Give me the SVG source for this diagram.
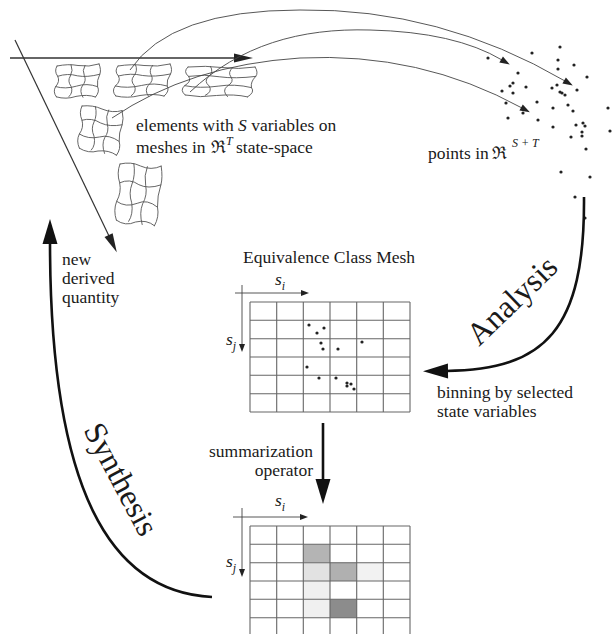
<svg xmlns="http://www.w3.org/2000/svg" xmlns:xlink="http://www.w3.org/1999/xlink" width="613" height="634" viewBox="0 0 613 634">
<style>
text{font-family:"Liberation Serif","DejaVu Serif",serif;fill:#1a1a1a}
.lbl{font-size:17.5px}
.it{font-style:italic}
.big{font-size:32px}
.grid line{stroke:#666;stroke-width:1.1}
.thin{fill:none;stroke:#444;stroke-width:0.9}
.thick{fill:none;stroke:#111;stroke-width:2.6}
.dot{fill:#222}
</style>
<defs>
<marker id="bigHead" markerUnits="userSpaceOnUse" markerWidth="26" markerHeight="16" refX="2" refY="7.5" orient="auto" overflow="visible"><path d="M0,0 L25,7.5 L0,15 z" fill="#111"/></marker>
<marker id="medHead" markerUnits="userSpaceOnUse" markerWidth="20" markerHeight="10" refX="1" refY="4.5" orient="auto" overflow="visible"><path d="M0,0 L19,4.5 L0,9 z" fill="#222"/></marker>
<marker id="smallHead" markerUnits="userSpaceOnUse" markerWidth="11" markerHeight="8" refX="1" refY="3.5" orient="auto" overflow="visible"><path d="M0,0 L10,3.5 L0,7 z" fill="#222"/></marker>
<marker id="axisHead" markerUnits="userSpaceOnUse" markerWidth="9" markerHeight="7" refX="1" refY="3" orient="auto" overflow="visible"><path d="M0,0 L8,3 L0,6 z" fill="#222"/></marker>
<g id="meshBase" fill="none" stroke="#555" stroke-width="0.9" stroke-linecap="round">
<path vector-effect="non-scaling-stroke" d="M0,0 Q8,-2 15,0 Q23,2 30,-1"/>
<path vector-effect="non-scaling-stroke" d="M1,10 Q8,7 15,10 Q22,12 31,9"/>
<path vector-effect="non-scaling-stroke" d="M0,20 Q7,23 15,20 Q22,17 30,21"/>
<path vector-effect="non-scaling-stroke" d="M1,30 Q8,33 15,30 Q23,28 29,31"/>
<path vector-effect="non-scaling-stroke" d="M0,0 Q-2,5 1,10 Q3,15 0,20 Q-2,25 1,30"/>
<path vector-effect="non-scaling-stroke" d="M10,-1 Q12,5 10,10 Q8,15 11,20 Q13,26 10,30"/>
<path vector-effect="non-scaling-stroke" d="M20,0 Q18,5 20,10 Q22,15 19,20 Q17,25 20,31"/>
<path vector-effect="non-scaling-stroke" d="M30,-1 Q32,5 31,9 Q29,15 30,21 Q32,26 29,31"/>
</g>
</defs>
<rect width="613" height="634" fill="#fff"/>

<g id="mesh1"><use xlink:href="#meshBase" transform="matrix(1.4,-0.033,-0.067,1.03,57,66)"/></g>
<g id="mesh2"><use xlink:href="#meshBase" transform="matrix(1.733,-0.033,-0.133,1.0,118,66)"/></g>
<g id="mesh3"><use xlink:href="#meshBase" transform="matrix(2.233,0.033,-0.167,0.933,188,67)"/></g>
<g id="mesh4"><use xlink:href="#meshBase" transform="matrix(1.333,0.2,-0.133,1.4,82,106)"/></g>
<g id="mesh5"><use xlink:href="#meshBase" transform="matrix(1.367,0.133,-0.167,1.867,120,164)"/></g>

<g id="elementsLabel">
<text class="lbl" x="136" y="131">elements with <tspan class="it">S</tspan> variables on</text>
<text class="lbl" x="136" y="153">meshes in</text>
<text class="lbl" x="211" y="153">ℜ<tspan class="it" x="226" dy="-8" font-size="12">T</tspan><tspan x="236" dy="8">state-space</tspan></text>
</g>

<g id="pointCloud">
<circle class="dot" cx="488" cy="58" r="1.6"/><circle class="dot" cx="532" cy="53" r="1.6"/><circle class="dot" cx="560" cy="47" r="1.6"/><circle class="dot" cx="558" cy="60" r="1.6"/><circle class="dot" cx="574" cy="65" r="1.6"/><circle class="dot" cx="558" cy="69" r="1.6"/><circle class="dot" cx="587" cy="77" r="1.6"/><circle class="dot" cx="518" cy="73" r="1.6"/><circle class="dot" cx="513" cy="83" r="1.6"/><circle class="dot" cx="510" cy="86" r="1.6"/><circle class="dot" cx="502" cy="91" r="1.6"/><circle class="dot" cx="513" cy="93" r="1.6"/><circle class="dot" cx="526" cy="87" r="1.6"/><circle class="dot" cx="552" cy="88" r="1.6"/><circle class="dot" cx="557" cy="85" r="1.6"/><circle class="dot" cx="562" cy="93" r="1.6"/><circle class="dot" cx="565" cy="95" r="1.6"/><circle class="dot" cx="560" cy="92" r="1.6"/><circle class="dot" cx="577" cy="90" r="1.6"/><circle class="dot" cx="537" cy="102" r="1.6"/><circle class="dot" cx="506" cy="103" r="1.6"/><circle class="dot" cx="568" cy="105" r="1.6"/><circle class="dot" cx="553" cy="108" r="1.6"/><circle class="dot" cx="573" cy="111" r="1.6"/><circle class="dot" cx="608" cy="108" r="1.6"/><circle class="dot" cx="508" cy="118" r="1.6"/><circle class="dot" cx="523" cy="113" r="1.6"/><circle class="dot" cx="538" cy="120" r="1.6"/><circle class="dot" cx="553" cy="127" r="1.6"/><circle class="dot" cx="576" cy="125" r="1.6"/><circle class="dot" cx="583" cy="123" r="1.6"/><circle class="dot" cx="585" cy="126" r="1.6"/><circle class="dot" cx="582" cy="132" r="1.6"/><circle class="dot" cx="571" cy="137" r="1.6"/><circle class="dot" cx="582" cy="136" r="1.6"/><circle class="dot" cx="610" cy="131" r="1.6"/><circle class="dot" cx="586" cy="149" r="1.6"/><circle class="dot" cx="561" cy="172" r="1.6"/><circle class="dot" cx="590" cy="177" r="1.6"/><circle class="dot" cx="575" cy="197" r="1.6"/><circle class="dot" cx="585" cy="218" r="1.6"/>
</g>
<g id="pointsLabel">
<text class="lbl" x="428" y="159">points in <tspan x="492">ℜ</tspan><tspan class="it" x="512" dy="-12" font-size="12">S + T</tspan></text>
</g>

<g id="equivalenceMesh">
<text class="lbl" x="243" y="263">Equivalence Class Mesh</text>
<g class="grid">
<line x1="250" y1="302" x2="250" y2="412"/><line x1="276.7" y1="302" x2="276.7" y2="412"/><line x1="303.3" y1="302" x2="303.3" y2="412"/><line x1="330" y1="302" x2="330" y2="412"/><line x1="356.7" y1="302" x2="356.7" y2="412"/><line x1="383.3" y1="302" x2="383.3" y2="412"/><line x1="410" y1="302" x2="410" y2="412"/>
<line x1="250" y1="302" x2="410" y2="302"/><line x1="250" y1="320.3" x2="410" y2="320.3"/><line x1="250" y1="338.7" x2="410" y2="338.7"/><line x1="250" y1="357" x2="410" y2="357"/><line x1="250" y1="375.3" x2="410" y2="375.3"/><line x1="250" y1="393.7" x2="410" y2="393.7"/><line x1="250" y1="412" x2="410" y2="412"/>
</g>
<circle class="dot" cx="309" cy="325" r="1.6"/><circle class="dot" cx="317" cy="333" r="1.6"/><circle class="dot" cx="324" cy="328" r="1.6"/><circle class="dot" cx="321" cy="343" r="1.6"/><circle class="dot" cx="323" cy="349" r="1.6"/><circle class="dot" cx="338" cy="349" r="1.6"/><circle class="dot" cx="362" cy="342" r="1.6"/><circle class="dot" cx="307" cy="367" r="1.6"/><circle class="dot" cx="319" cy="378" r="1.6"/><circle class="dot" cx="336" cy="378" r="1.6"/><circle class="dot" cx="347" cy="383" r="1.6"/><circle class="dot" cx="347" cy="386" r="1.6"/><circle class="dot" cx="351" cy="384" r="1.6"/><circle class="dot" cx="354" cy="389" r="1.6"/>
<path class="thin" d="M235,293 L302,293" marker-end="url(#axisHead)"/>
<path class="thin" d="M242,285 L242,345" marker-end="url(#axisHead)"/>
<text class="lbl it" x="275" y="285">s<tspan font-size="12" dy="5">i</tspan></text>
<text class="lbl it" x="226" y="345">s<tspan font-size="12" dy="5">j</tspan></text>
</g>

<g id="summaryMesh">
<rect x="303.3" y="544.3" width="26.7" height="18.4" fill="#b4b4b4"/>
<rect x="303.3" y="562.7" width="26.7" height="18.3" fill="#e2e2e2"/>
<rect x="330" y="562.7" width="26.7" height="18.3" fill="#b0b0b0"/>
<rect x="356.7" y="562.7" width="26.6" height="18.3" fill="#f2f2f2"/>
<rect x="303.3" y="581" width="26.7" height="18.3" fill="#f0f0f0"/>
<rect x="303.3" y="599.3" width="26.7" height="18.4" fill="#f0f0f0"/>
<rect x="330" y="599.3" width="26.7" height="18.4" fill="#8c8c8c"/>
<g class="grid">
<line x1="250" y1="526" x2="250" y2="636"/><line x1="276.7" y1="526" x2="276.7" y2="636"/><line x1="303.3" y1="526" x2="303.3" y2="636"/><line x1="330" y1="526" x2="330" y2="636"/><line x1="356.7" y1="526" x2="356.7" y2="636"/><line x1="383.3" y1="526" x2="383.3" y2="636"/><line x1="410" y1="526" x2="410" y2="636"/>
<line x1="250" y1="526" x2="410" y2="526"/><line x1="250" y1="544.3" x2="410" y2="544.3"/><line x1="250" y1="562.7" x2="410" y2="562.7"/><line x1="250" y1="581" x2="410" y2="581"/><line x1="250" y1="599.3" x2="410" y2="599.3"/><line x1="250" y1="617.7" x2="410" y2="617.7"/>
</g>
<path class="thin" d="M233,517 L301,517" marker-end="url(#axisHead)"/>
<path class="thin" d="M242,508 L242,570" marker-end="url(#axisHead)"/>
<text class="lbl it" x="275" y="506">s<tspan font-size="12" dy="5">i</tspan></text>
<text class="lbl it" x="226" y="567">s<tspan font-size="12" dy="5">j</tspan></text>
</g>

<g id="otherLabels">
<text class="lbl" x="62" y="265">new</text>
<text class="lbl" x="62" y="284">derived</text>
<text class="lbl" x="62" y="303">quantity</text>
<text class="lbl" x="437" y="398">binning by selected</text>
<text class="lbl" x="437" y="417">state variables</text>
<text class="lbl" x="313" y="457" text-anchor="end">summarization</text>
<text class="lbl" x="313" y="476" text-anchor="end">operator</text>
<text class="big" x="479" y="347" transform="rotate(-44 479 347)">Analysis</text>
<text class="big" x="83" y="430" transform="rotate(62 83 430)">Synthesis</text>
</g>

<g id="connectors">
<path d="M10,58 L235,58" fill="none" stroke="#333" stroke-width="1.3" marker-end="url(#medHead)"/>
<path d="M15,40 L109,236" fill="none" stroke="#333" stroke-width="1.2" marker-end="url(#medHead)"/>
<path class="thin" d="M130,70 Q170,10 300,10 Q440,8 565,81" marker-end="url(#smallHead)"/>
<path class="thin" d="M190,92 C240,45 300,28 370,30 Q455,32 502,60" marker-end="url(#smallHead)"/>
<path class="thin" d="M112,118 Q190,65 300,58 Q420,52 522,108" marker-end="url(#smallHead)"/>
<path class="thick" d="M584,197 C585,330 545,370 446,371" marker-end="url(#bigHead)"/>
<path class="thick" d="M212,597 C110,592 50,490 50,242" marker-end="url(#bigHead)"/>
<path class="thick" d="M323,423 L323,481" stroke-width="3" marker-end="url(#bigHead)"/>
</g>
</svg>
